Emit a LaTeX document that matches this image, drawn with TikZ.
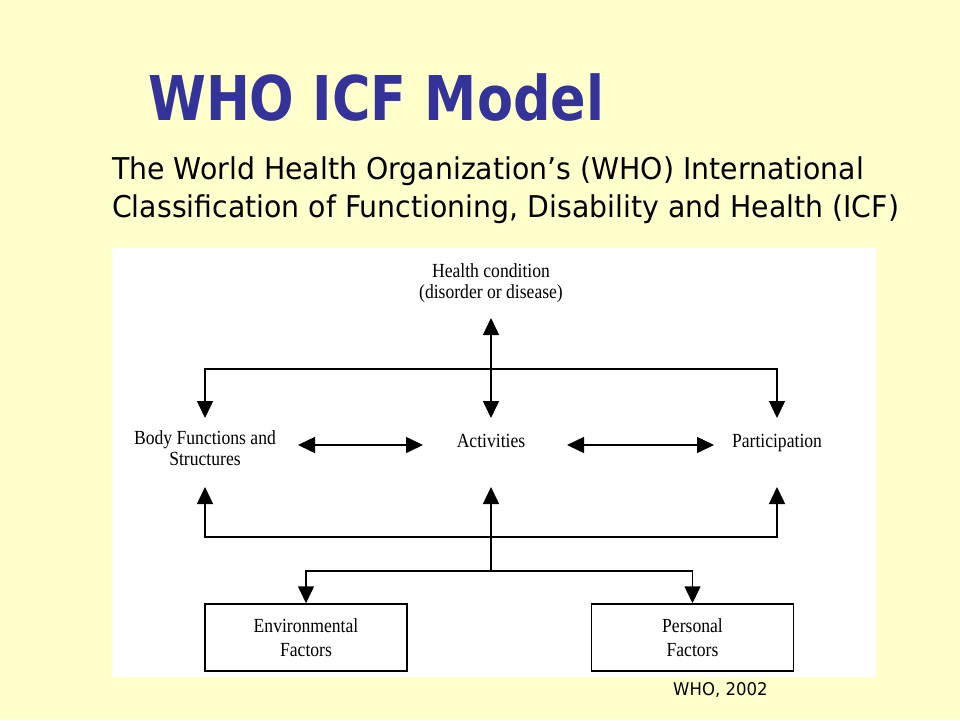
\documentclass[tikz,border=0pt]{standalone}
\usepackage{fontspec}
\usetikzlibrary{arrows.meta}
\setmainfont{Liberation Serif}
\newfontfamily\diagfont[FakeStretch=0.88]{Liberation Serif}
\newfontfamily\tahfont[FakeStretch=0.945]{DejaVu Sans}
\newfontfamily\titlefont[FakeStretch=0.85]{DejaVu Sans}
\definecolor{bgyellow}{HTML}{FFFFCC}
\definecolor{titleblue}{HTML}{333399}
\begin{document}
\begin{tikzpicture}[x=1pt,y=-1pt,
  tri/.tip={Triangle[length=17pt,width=16pt]},
  conn/.style={line width=1.5pt, draw=black},
  lbl/.style={inner sep=0pt, align=center, font=\diagfont\fontsize{20}{21}\selectfont},
  factorbox/.style={draw, line width=1.5pt, minimum width=202pt, minimum height=67pt,
    align=center, inner sep=0pt, font=\diagfont\fontsize{20}{24}\selectfont}]
\useasboundingbox[fill=bgyellow] (0,0) rectangle (960,720);
\node[fill=white, minimum width=764pt, minimum height=429pt, inner sep=0pt] (panel) at (494,462.5) {};

% titles
\node[anchor=base west, inner sep=0pt, text=titleblue,
  font=\titlefont\bfseries\fontsize{61.7}{70}\selectfont] (title) at (148,120) {WHO ICF Model};
\node[anchor=base west, inner sep=0pt, font=\tahfont\fontsize{30}{37}\selectfont] (sub1) at (112,179)
  {The World Health Organization’s (WHO) International};
\node[anchor=base west, inner sep=0pt, font=\tahfont\fontsize{30}{37}\selectfont] (sub2) at (112,217)
  {Classification of Functioning, Disability and Health (ICF)};
\node[anchor=base west, inner sep=0pt, font=\tahfont\fontsize{17.5}{20}\selectfont] (src) at (673,695)
  {WHO, 2002};

% labels
\node[lbl] (hc) at (491,283) {Health condition\\(disorder or disease)};
\node[lbl] (bf) at (205,448) {Body Functions and\\Structures};
\node[lbl, anchor=base] (act) at (491,447) {Activities};
\node[lbl, anchor=base] (par) at (777,447) {Participation};
\node[factorbox] (env) at (306,637.5) {Environmental\\Factors};
\node[factorbox] (per) at (692.5,637.5) {Personal\\Factors};

% connection points
\coordinate (hcTip) at (491,318);
\coordinate (actTop) at (491,418);
\coordinate (bfTop) at (205,418);
\coordinate (parTop) at (777,418);
\coordinate (upperJ) at (491,369);
\coordinate (bfBot) at (205,487);
\coordinate (actBot) at (491,487);
\coordinate (parBot) at (777,487);
\coordinate (midJ) at (491,537);
\coordinate (lowJ) at (491,571);
\coordinate (bfR) at (298,445);
\coordinate (actL) at (423,445);
\coordinate (actR) at (567,445);
\coordinate (parL) at (714,445);

% connectors
\draw[conn, {tri}-{tri}] (hcTip) -- (actTop);
\draw[conn, {tri}-{tri}] (bfTop) |- (upperJ) -| (parTop);
\draw[conn, {tri}-{tri}] (bfR) -- (actL);
\draw[conn, {tri}-{tri}] (actR) -- (parL);
\draw[conn, {tri}-{tri}] (bfBot) |- (midJ) -| (parBot);
\draw[conn, -{tri}] (lowJ) -- (actBot);
\draw[conn, {tri}-{tri}] (env.north) |- (lowJ) -| (per.north);
\end{tikzpicture}
\end{document}
